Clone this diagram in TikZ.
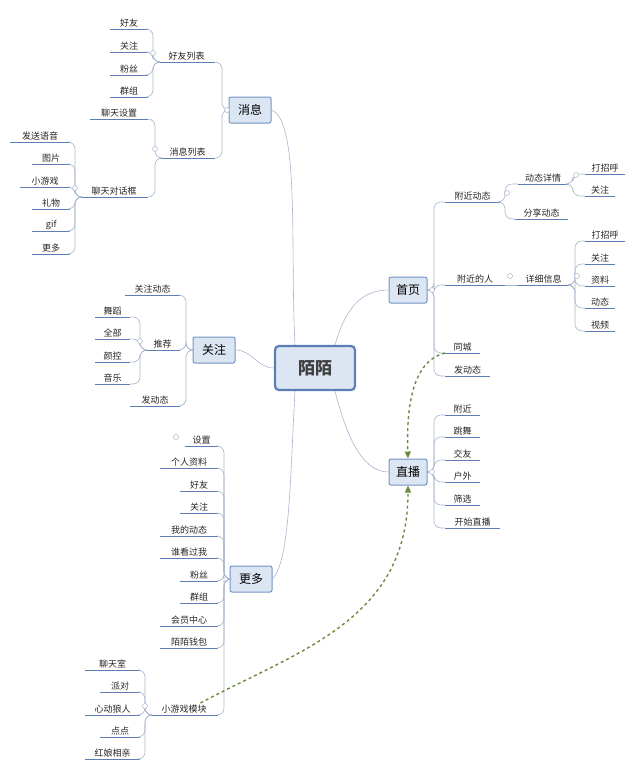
\documentclass[tikz,border=0pt]{standalone}
\usepackage{fontspec}
\setmainfont{Noto Sans CJK SC}
\usetikzlibrary{arrows.meta}
\definecolor{ul}{HTML}{5B7FB5}
\definecolor{cn}{HTML}{A9B6CC}
\definecolor{bxf}{HTML}{DCE6F2}
\definecolor{bxd}{HTML}{7393C4}
\definecolor{dsh}{HTML}{6E8B3D}
\tikzset{
 leaf/.style={inner sep=1.5pt,font=\fontsize{9}{10}\selectfont,text=black!85},
 uline/.style={draw=ul,line width=1pt},
 conn/.style={draw=cn,line width=0.6pt},
 box/.style={draw=bxd,fill=bxf,rounded corners=2pt,line width=1pt,font=\fontsize{12}{13}\selectfont,minimum width=42pt,minimum height=26pt},
 cbox/.style={draw=ul,fill=bxf,rounded corners=4pt,line width=2.2pt,font=\fontsize{17}{18}\selectfont\bfseries,text=black!75,minimum width=80pt,minimum height=44pt},
 knob/.style={circle,draw=cn,line width=0.5pt,minimum size=5pt,inner sep=0pt,fill=white},
 dashrel/.style={draw=dsh,line width=1.4pt,dashed,-{Triangle[length=7pt,width=6pt]}}
}
\newcommand\LF[5]{\node[leaf,minimum width={(#3-#2)*1pt},anchor=south west] (#1) at (#2,#4) {#5};
 \draw[uline] (#1.south west) -- (#1.south east);}
\newcommand\CL[2]{\draw[conn,rounded corners=7pt] (#1) -- ++(-5,0) |- (#2.south east);}
\newcommand\CR[2]{\draw[conn,rounded corners=7pt] (#1) -- ++(5,0) |- (#2.south west);}
\begin{document}
\begin{tikzpicture}[x=1pt,y=-1pt]
\useasboundingbox (0,0) rectangle (640,769);
% center
\node[cbox] (mm) at (315,368) {陌陌};
\node[box] (xx) at (250,110) {消息};
\node[box] (gz) at (214,350) {关注};
\node[box] (gd) at (251,579) {更多};
\node[box,minimum width=38pt] (sy) at (408,290) {首页};
\node[box,minimum width=38pt] (zb) at (408,472) {直播};
\draw[conn] (mm.north) ++(-20,0) coordinate (m1) .. controls (290,250) and (300,120) .. (xx.east);
\draw[conn] (mm.west) to[out=180,in=0] (gz.east);
\draw[conn] (mm.south) ++(-20,0) coordinate (m2) .. controls (290,480) and (290,560) .. (gd.east);
\draw[conn] (mm.north) ++(20,0) coordinate (m3) .. controls (345,310) and (360,290) .. (sy.west);
\draw[conn] (mm.south) ++(20,0) coordinate (m4) .. controls (345,430) and (360,472) .. (zb.west);

% 消息
\LF{hylb}{158}{215}{62}{好友列表}
\LF{xxlb}{160}{215}{158}{消息列表}
\coordinate (xxc) at (227,110);
\CL{xxc}{hylb}\CL{xxc}{xxlb}
\node[knob] at (xxc) {};
\LF{a1}{110}{148}{29}{好友}\LF{a2}{110}{148}{52}{关注}\LF{a3}{110}{148}{75}{粉丝}\LF{a4}{110}{148}{97}{群组}
\coordinate (hyc) at (158,62);
\foreach \n in {a1,a2,a3,a4}{\CL{hyc}{\n}}
\node[knob] at (153,53) {};
\LF{ltsz}{90}{148}{119}{聊天设置}
\LF{ltdh}{80}{148}{197}{聊天对话框}
\coordinate (xlc) at (160,158);
\CL{xlc}{ltsz}\CL{xlc}{ltdh}
\node[knob] at (155,149) {};
\LF{b1}{10}{70}{142}{发送语音}\LF{b2}{32}{70}{164}{图片}\LF{b3}{20}{70}{187}{小游戏}
\LF{b4}{32}{70}{209}{礼物}\LF{b5}{32}{70}{231}{gif}\LF{b6}{32}{70}{254}{更多}
\coordinate (dhc) at (80,197);
\foreach \n in {b1,b2,b3,b4,b5,b6}{\CL{dhc}{\n}}
\node[knob] at (75,188) {};

% 关注
\LF{gzdt}{125}{180}{295}{关注动态}
\LF{tj}{145}{180}{350}{推荐}
\LF{gfdt}{130}{180}{406}{发动态}
\coordinate (gzc) at (191,350);
\CL{gzc}{gzdt}\CL{gzc}{tj}\CL{gzc}{gfdt}
\LF{c1}{95}{130}{317}{舞蹈}\LF{c2}{95}{130}{339}{全部}\LF{c3}{95}{130}{362}{颜控}\LF{c4}{95}{130}{384}{音乐}
\coordinate (tjc) at (145,350);
\foreach \n in {c1,c2,c3,c4}{\CL{tjc}{\n}}
\node[knob] at (140,341) {};

% 更多
\coordinate (gdc) at (229,579);
\LF{d0}{185}{218}{446}{设置}
\LF{d1}{160}{218}{468}{个人资料}\LF{d2}{180}{218}{491}{好友}\LF{d3}{180}{218}{513}{关注}
\LF{d4}{160}{218}{536}{我的动态}\LF{d5}{160}{218}{558}{谁看过我}\LF{d6}{180}{218}{581}{粉丝}
\LF{d7}{180}{218}{603}{群组}\LF{d8}{160}{218}{626}{会员中心}\LF{d9}{160}{218}{648}{陌陌钱包}
\LF{d10}{150}{218}{715}{小游戏模块}
\foreach \n in {d0,d1,d2,d3,d4,d5,d6,d7,d8,d9,d10}{\CL{gdc}{\n}}
\node[knob] at (176,437) {};
\LF{e1}{85}{140}{670}{聊天室}\LF{e2}{100}{140}{692}{派对}\LF{e3}{85}{140}{715}{心动狼人}
\LF{e4}{100}{140}{737}{点点}\LF{e5}{85}{140}{759}{红娘相亲}
\coordinate (xyc) at (150,715);
\foreach \n in {e1,e2,e3,e4,e5}{\CL{xyc}{\n}}
\node[knob] at (145,706) {};

% 首页
\coordinate (syc) at (429,290);
\LF{f1}{445}{500}{202}{附近动态}\LF{f2}{445}{505}{285}{附近的人}
\LF{f3}{445}{480}{353}{同城}\LF{f4}{445}{490}{376}{发动态}
\foreach \n in {f1,f2,f3,f4}{\CR{syc}{\n}}
\node[knob] at (432,290) {};
\LF{g1}{518}{568}{184}{动态详情}\LF{g2}{515}{568}{219}{分享动态}
\coordinate (f1c) at (500,202);
\CR{f1c}{g1}\CR{f1c}{g2}
\node[knob] at (507,193) {};
\LF{h1}{585}{625}{174}{打招呼}\LF{h2}{585}{615}{196}{关注}
\coordinate (g1c) at (568,184);
\CR{g1c}{h1}\CR{g1c}{h2}
\node[knob] at (576,175) {};
\LF{xxxx}{517}{570}{285}{详细信息}
\draw[conn] (f2.south east) -- (xxxx.south west);
\node[knob] at (510,276) {};
\LF{i1}{585}{625}{241}{打招呼}\LF{i2}{585}{615}{264}{关注}\LF{i3}{585}{615}{286}{资料}
\LF{i4}{585}{615}{308}{动态}\LF{i5}{585}{615}{331}{视频}
\coordinate (xxc2) at (570,285);
\foreach \n in {i1,i2,i3,i4,i5}{\CR{xxc2}{\n}}
\node[knob] at (577,276) {};

% 直播
\coordinate (zbc) at (429,472);
\LF{j1}{445}{480}{415}{附近}\LF{j2}{445}{480}{437}{跳舞}\LF{j3}{445}{480}{460}{交友}
\LF{j4}{445}{480}{482}{户外}\LF{j5}{445}{480}{505}{筛选}\LF{j6}{445}{500}{528}{开始直播}
\foreach \n in {j1,j2,j3,j4,j5,j6}{\CR{zbc}{\n}}
\node[knob] at (432,472) {};

% dashed relations
\draw[dashrel] (f3.south west) .. controls (415,360) and (406,400) .. (zb.north);
\draw[dashrel] (d10.south east) ++(-18,-12) coordinate (dq) .. controls (300,650) and (408,620) .. (zb.south);
\end{tikzpicture}
\end{document}
